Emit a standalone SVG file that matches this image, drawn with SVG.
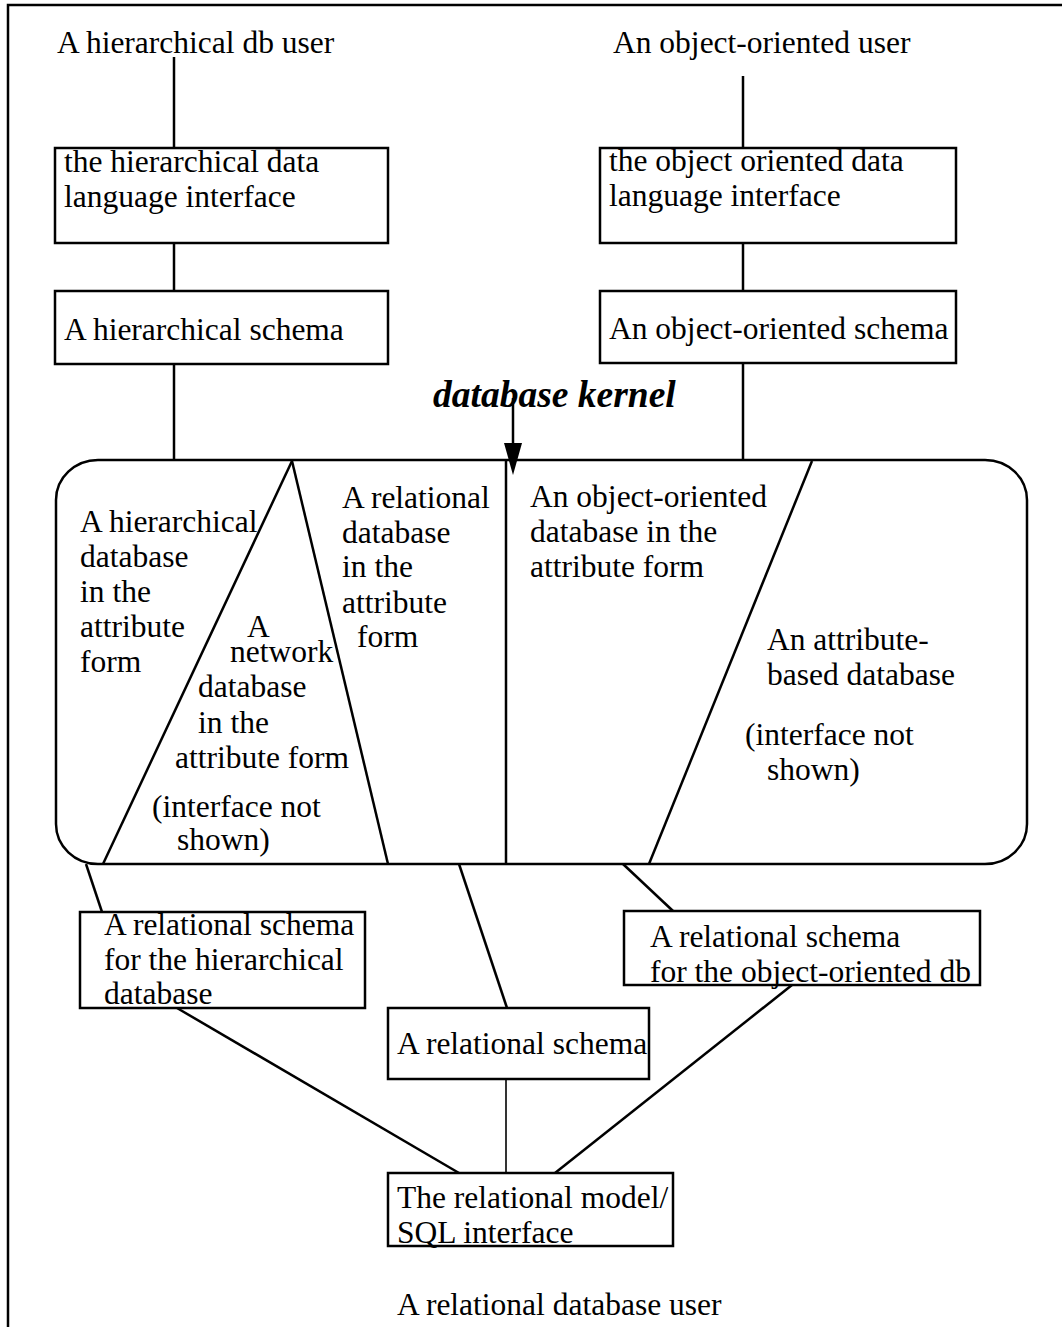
<svg xmlns="http://www.w3.org/2000/svg" width="1062" height="1327" viewBox="0 0 1062 1327">
<style>
text{font-family:"Liberation Serif","Times New Roman",serif;font-size:31.5px;fill:#000}
.box{fill:none;stroke:#000;stroke-width:2.5}
.ln{stroke:#000;stroke-width:2.5;fill:none}
.thin{stroke:#000;stroke-width:1.6;fill:none}
.kt{font-weight:bold;font-style:italic;font-size:37.5px}
</style>
<rect x="0" y="0" width="1062" height="1327" fill="#fff"/>
<g id="frame">
<path class="ln" d="M8,1327 V5 H1062"/>
</g>
<g id="connectors">
<line class="ln" x1="174" y1="57" x2="174" y2="148"/>
<line class="ln" x1="174" y1="243" x2="174" y2="291"/>
<line class="ln" x1="174" y1="364" x2="174" y2="460"/>
<line class="ln" x1="743" y1="76" x2="743" y2="148"/>
<line class="ln" x1="743" y1="243" x2="743" y2="291"/>
<line class="ln" x1="743" y1="363" x2="743" y2="460"/>
<line class="ln" x1="513" y1="398" x2="513" y2="446"/>
<polygon points="504,443 522,443 513,475" fill="#000"/>
<line class="ln" x1="86" y1="864" x2="102" y2="912"/>
<line class="ln" x1="459" y1="864" x2="507" y2="1008"/>
<line class="ln" x1="623" y1="864" x2="673" y2="911"/>
<line class="thin" x1="506" y1="1079" x2="506" y2="1173"/>
<line class="ln" x1="177" y1="1008" x2="459" y2="1173"/>
<line class="ln" x1="792" y1="985" x2="555" y2="1173"/>
</g>
<g id="user-hier"><text x="57" y="53">A hierarchical db user</text></g>
<g id="user-oo"><text x="613" y="53">An object-oriented user</text></g>
<g id="hier-dl">
<rect class="box" x="55" y="148" width="333" height="95"/>
<text x="64" y="172">the hierarchical data</text>
<text x="64" y="207">language interface</text>
</g>
<g id="hier-schema">
<rect class="box" x="55" y="291" width="333" height="73"/>
<text x="64" y="340">A hierarchical schema</text>
</g>
<g id="oo-dl">
<rect class="box" x="600" y="148" width="356" height="95"/>
<text x="609" y="171">the object oriented data</text>
<text x="609" y="206">language interface</text>
</g>
<g id="oo-schema">
<rect class="box" x="600" y="291" width="356" height="72"/>
<text x="609" y="339">An object-oriented schema</text>
</g>
<g id="kernel-label"><text class="kt" x="433" y="407">database kernel</text></g>
<g id="kernel">
<rect class="box" x="56" y="460" width="971" height="404" rx="42" ry="40"/>
<line class="ln" x1="292" y1="461" x2="103" y2="864"/>
<line class="ln" x1="292" y1="461" x2="388" y2="864"/>
<line class="ln" x1="506" y1="460" x2="506" y2="864"/>
<line class="ln" x1="812" y1="461" x2="649" y2="864"/>
<text x="80" y="532">A hierarchical</text>
<text x="80" y="567">database</text>
<text x="80" y="602">in the</text>
<text x="80" y="637">attribute</text>
<text x="80" y="672">form</text>
<text x="247" y="637">A</text>
<text x="230" y="662">network</text>
<text x="198" y="697">database</text>
<text x="198" y="733">in the</text>
<text x="175" y="768">attribute form</text>
<text x="152" y="817">(interface not</text>
<text x="177" y="850">shown)</text>
<text x="342" y="508">A relational</text>
<text x="342" y="543">database</text>
<text x="342" y="577">in the</text>
<text x="342" y="613">attribute</text>
<text x="357" y="647">form</text>
<text x="530" y="507">An object-oriented</text>
<text x="530" y="542">database in the</text>
<text x="530" y="577">attribute form</text>
<text x="767" y="650">An attribute-</text>
<text x="767" y="685">based database</text>
<text x="745" y="745">(interface not</text>
<text x="767" y="780">shown)</text>
</g>
<g id="rel-hier">
<rect class="box" x="80" y="912" width="285" height="96"/>
<text x="104" y="935">A relational schema</text>
<text x="104" y="970">for the hierarchical</text>
<text x="104" y="1004">database</text>
</g>
<g id="rel-schema">
<rect class="box" x="388" y="1008" width="261" height="71"/>
<text x="397" y="1054">A relational schema</text>
</g>
<g id="rel-oo">
<rect class="box" x="624" y="911" width="356" height="74"/>
<text x="650" y="947">A relational schema</text>
<text x="650" y="982">for the object-oriented db</text>
</g>
<g id="sql">
<rect class="box" x="388" y="1173" width="285" height="73"/>
<text x="397" y="1208">The relational model/</text>
<text x="397" y="1243">SQL interface</text>
</g>
<g id="user-rel"><text x="397" y="1315">A relational database user</text></g>
</svg>
